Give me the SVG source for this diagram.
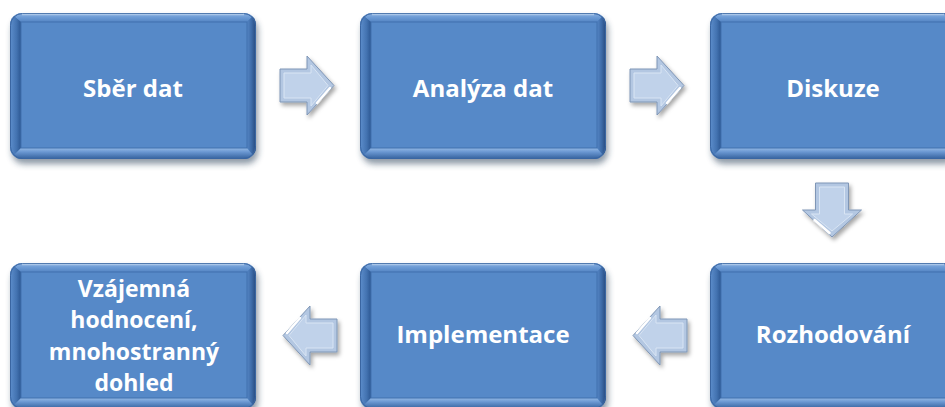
<svg xmlns="http://www.w3.org/2000/svg" xmlns:xlink="http://www.w3.org/1999/xlink" width="945" height="407" viewBox="0 0 945 407">
<style>
.t{font-family:"Open Sans","Liberation Sans",sans-serif;font-weight:700;font-size:24px;fill:#ffffff;text-anchor:middle}
.t2{font-size:23px}
</style>
<defs>
<filter id="sh" x="-10%" y="-10%" width="130%" height="140%"><feGaussianBlur stdDeviation="3"/></filter>
<filter id="ash" x="-20%" y="-20%" width="150%" height="150%"><feDropShadow dx="2" dy="3" stdDeviation="2" flood-color="#000" flood-opacity="0.35"/></filter>
<clipPath id="bc"><rect width="246" height="146" rx="12"/></clipPath>
<linearGradient id="gTop" x1="0" y1="0" x2="0" y2="1"><stop offset="0" stop-color="#8BB1E0"/><stop offset="0.5" stop-color="#6C9AD4"/><stop offset="1" stop-color="#5485C4"/></linearGradient>
<linearGradient id="gLeft" x1="0" y1="0" x2="1" y2="0"><stop offset="0" stop-color="#5D8ECC"/><stop offset="0.6" stop-color="#4373B1"/><stop offset="1" stop-color="#2C5792"/></linearGradient>
<linearGradient id="gRight" x1="0" y1="0" x2="1" y2="0"><stop offset="0" stop-color="#5586C5"/><stop offset="0.5" stop-color="#3D6BA8"/><stop offset="1" stop-color="#26497D"/></linearGradient>
<linearGradient id="gBot" x1="0" y1="0" x2="0" y2="1"><stop offset="0" stop-color="#94B9E4"/><stop offset="0.35" stop-color="#6B98D2"/><stop offset="1" stop-color="#33609C"/></linearGradient>
<g id="boxShape">
 <rect x="2" y="5" width="246" height="146" rx="12" fill="#1F3550" opacity="0.5" filter="url(#sh)"/>
 <g clip-path="url(#bc)">
  <rect width="246" height="146" fill="#4A7BBA"/>
  <polygon points="0,0 246,0 237,9 11,9" fill="url(#gTop)"/>
  <polygon points="0,0 11,9 11,135 0,146" fill="url(#gLeft)"/>
  <polygon points="246,0 246,146 237,135 237,9" fill="url(#gRight)"/>
  <polygon points="0,146 11,135 237,135 246,146" fill="url(#gBot)"/>
 </g>
 <rect x="0.5" y="0.5" width="245" height="145" rx="12" fill="none" stroke="#3A66A2" stroke-width="1"/>
 <rect x="11" y="9" width="226" height="126" fill="#5689C8" stroke="#4170AE" stroke-width="1"/>
 <path d="M12,1.5 H234" stroke="#B3CDEC" stroke-width="1.5" opacity="0.8"/>
</g>
<g id="arrowShape">
 <path d="M0,13 H27 V0 L54,29.5 L27,59 V46 H0 Z" fill="#B3C7E2" stroke="#7F96B6" stroke-width="1"/>
 <path d="M4,17 H31 V9 L48,29.5 L31,50 V42 H4 Z" fill="#C0D2EA" stroke="#D9E5F4" stroke-width="1"/>
 <path d="M37,47 L50,32" stroke="#ffffff" stroke-width="2.5" stroke-linecap="round"/>
</g>
</defs>
<rect width="945" height="407" fill="#ffffff"/>
<g id="connectors">
 <g filter="url(#ash)"><use xlink:href="#arrowShape" transform="translate(280,56)"/></g>
 <g filter="url(#ash)"><use xlink:href="#arrowShape" transform="translate(630,56)"/></g>
 <g filter="url(#ash)"><use xlink:href="#arrowShape" transform="translate(861.5,183) rotate(90)"/></g>
 <g filter="url(#ash)"><use xlink:href="#arrowShape" transform="translate(687,365) rotate(180)"/></g>
 <g filter="url(#ash)"><use xlink:href="#arrowShape" transform="translate(337,365) rotate(180)"/></g>
</g>
<g id="node1"><use xlink:href="#boxShape" transform="translate(10,13)"/><text class="t" x="133" y="97">Sběr dat</text></g>
<g id="node2"><use xlink:href="#boxShape" transform="translate(360,13)"/><text class="t" x="483" y="97">Analýza dat</text></g>
<g id="node3"><use xlink:href="#boxShape" transform="translate(710,13)"/><text class="t" x="833" y="97">Diskuze</text></g>
<g id="node4"><use xlink:href="#boxShape" transform="translate(710,263)"/><text class="t" x="833" y="343">Rozhodování</text></g>
<g id="node5"><use xlink:href="#boxShape" transform="translate(360,263)"/><text class="t" x="483" y="343">Implementace</text></g>
<g id="node6"><use xlink:href="#boxShape" transform="translate(10,263)"/>
 <text class="t t2" x="134" y="297">Vzájemná</text>
 <text class="t t2" x="134" y="328">hodnocení,</text>
 <text class="t t2" x="134" y="360">mnohostranný</text>
 <text class="t t2" x="134" y="391">dohled</text>
</g>
</svg>
